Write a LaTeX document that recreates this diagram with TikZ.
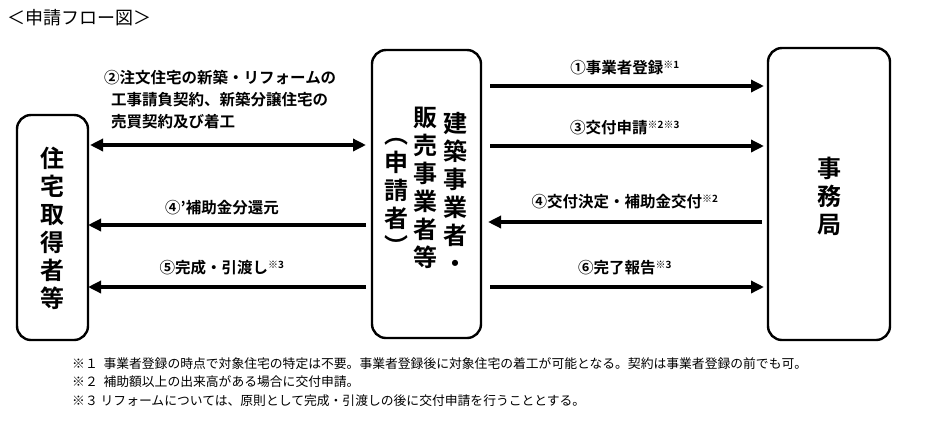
\documentclass[tikz,border=0pt]{standalone}
\usepackage{fontspec}
\setmainfont{Noto Sans CJK JP}[BoldFont={* Bold}]
\usetikzlibrary{arrows.meta}
\newcommand{\nt}[1]{\textsuperscript{\fontsize{10}{10}\selectfont #1}}
\begin{document}
\begin{tikzpicture}[x=1pt,y=-1pt,
  party/.style={draw,line width=2.4pt,rounded corners=14pt},
  flow/.style={line width=4pt,-{Triangle[length=13pt,width=12pt]}},
  both/.style={line width=4pt,{Triangle[length=13pt,width=12pt]}-{Triangle[length=13pt,width=12pt]}},
  lbl/.style={font=\fontsize{15.5}{18}\selectfont\bfseries,inner sep=0pt},
  vtext/.style={font=\fontsize{24}{28}\selectfont\bfseries,align=center,inner sep=0pt}]
  \useasboundingbox (0,0) rectangle (941,437);
  \node[anchor=west,font=\fontsize{18}{20}\selectfont] (title) at (4,18) {＜申請フロー図＞};
  % parties
  \draw[party] (17,115) rectangle (88,340);
  \draw[party] (372,50) rectangle (481,338);
  \draw[party] (768,48) rectangle (890,340);
  \node[vtext] (buyer) at (52.5,228) {住\\宅\\取\\得\\者\\等};
  \node[vtext,anchor=north] (builder) at (455,112) {建\\築\\事\\業\\者\\・};
  \node[vtext,anchor=north] (seller) at (425,107) {販\\売\\事\\業\\者\\等};
  \node[vtext,anchor=north] (appl) at (396,138) {︵\\申\\請\\者\\︶};
  \node[vtext] (office) at (829,196) {事\\務\\局};
  % left side anchors
  \coordinate (lL2) at (90,145);  \coordinate (lR2) at (366,145);
  \coordinate (lL4) at (88,225);  \coordinate (lR4) at (366,225);
  \coordinate (lL5) at (88,287);  \coordinate (lR5) at (366,287);
  % right side anchors
  \coordinate (rL1) at (490,86);  \coordinate (rR1) at (764,86);
  \coordinate (rL3) at (490,146); \coordinate (rR3) at (764,146);
  \coordinate (rL4) at (488,222); \coordinate (rR4) at (762,222);
  \coordinate (rL6) at (490,287); \coordinate (rR6) at (764,287);
  \draw[both] (lL2) -- (lR2);
  \draw[flow] (lR4) -- (lL4);
  \draw[flow] (lR5) -- (lL5);
  \draw[flow] (rL1) -- (rR1);
  \draw[flow] (rL3) -- (rR3);
  \draw[flow] (rR4) -- (rL4);
  \draw[flow] (rL6) -- (rR6);
  % labels
  \node[lbl,anchor=north west,align=left,font=\fontsize{15.5}{22}\selectfont\bfseries] (t2) at (104,70)
    {②注文住宅の新築・リフォームの\\\ \ 工事請負契約、新築分譲住宅の\\\ \ 売買契約及び着工};
  \node[lbl] (t4b) at (222,208) {④’補助金分還元};
  \node[lbl] (t5) at (222,268) {⑤完成・引渡し\nt{※3}};
  \node[lbl] (t1) at (625,68) {①事業者登録\nt{※1}};
  \node[lbl] (t3) at (625,128) {③交付申請\nt{※2※3}};
  \node[lbl] (t4) at (625,202) {④交付決定・補助金交付\nt{※2}};
  \node[lbl] (t6) at (625,268) {⑥完了報告\nt{※3}};
  % notes
  \node[anchor=north west,align=left,inner sep=0pt,font=\fontsize{12.8}{18.5}\selectfont] (notes) at (72,357)
    {※１\ \ 事業者登録の時点で対象住宅の特定は不要。事業者登録後に対象住宅の着工が可能となる。契約は事業者登録の前でも可。\\
     ※２\ \ 補助額以上の出来高がある場合に交付申請。\\
     ※３\ リフォームについては、原則として完成・引渡しの後に交付申請を行うこととする。};
\end{tikzpicture}
\end{document}
